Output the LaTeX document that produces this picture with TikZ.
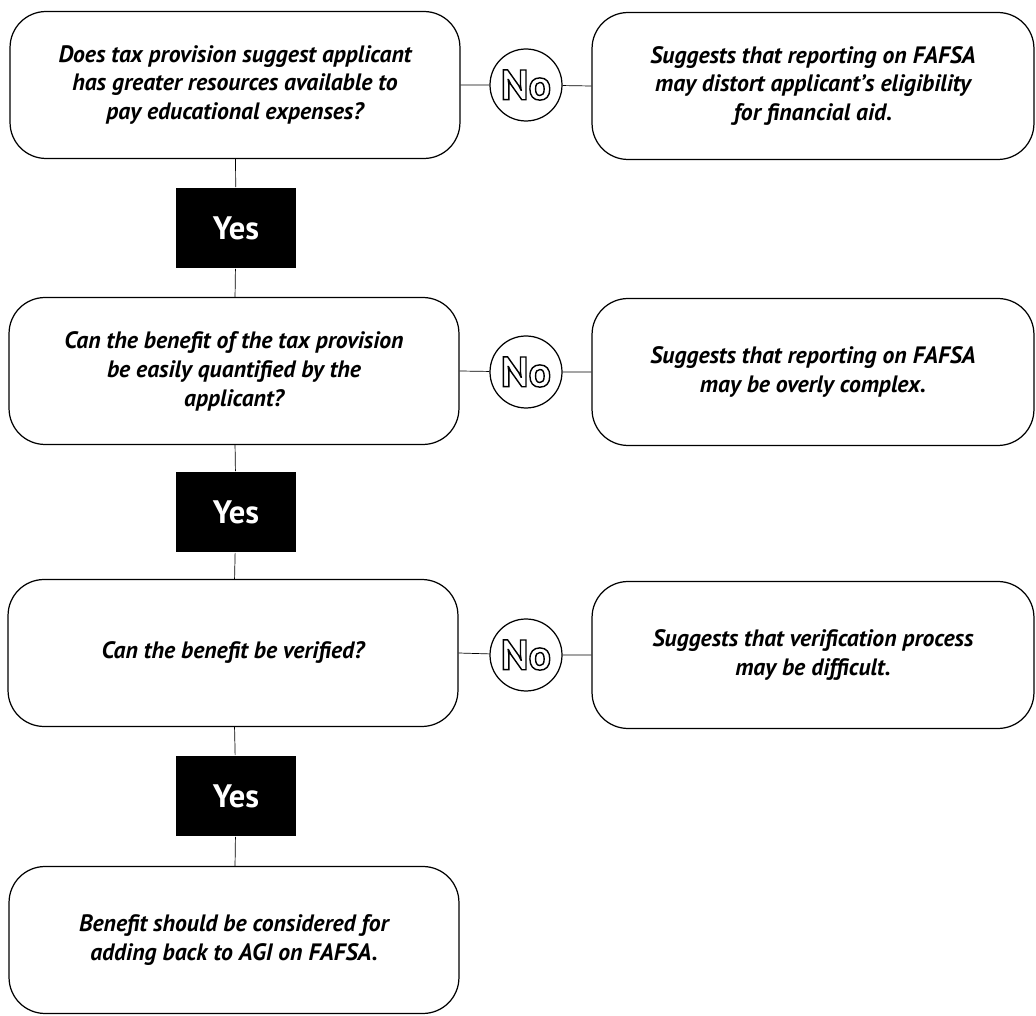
\documentclass[tikz,border=0pt]{standalone}
\usepackage{fontspec}
\setmainfont{PT Sans}
\newcommand{\hollow}[1]{\special{pdf:code q 1 Tr 0.8 w}#1\special{pdf:code Q}}
\begin{document}
\begin{tikzpicture}[x=0.02cm,y=-0.02cm,
    qbox/.style={draw,line width=0.7pt,rounded corners=0.72cm,align=center,
        minimum width=9cm,minimum height=2.94cm,inner sep=0pt,
        font=\fontsize{13.5}{16.5}\selectfont\bfseries\itshape},
    rbox/.style={qbox,minimum width=8.84cm},
    nocirc/.style={draw,circle,line width=0.7pt,minimum size=1.44cm,inner sep=0pt,
        font=\fontsize{24}{24}\selectfont\bfseries},
    yesbox/.style={fill=black,text=white,minimum width=2.4cm,minimum height=1.62cm,
        font=\fontsize{18.5}{18.5}\selectfont\bfseries}]
                \useasboundingbox (0,0) rectangle (1036,1016);
                \node[qbox] (q1) at (235,85) {Does tax provision suggest applicant\\has greater resources available to\\pay educational expenses?};
                \node[nocirc] (no1) at (526,85) {\hollow{No}};
                \node[rbox] (r1) at (813,86) {Suggests that reporting on FAFSA\\may distort applicant's eligibility\\for financial aid.};
                \node[yesbox] (yes1) at (236,228) {Yes};
                \node[qbox] (q2) at (234,371) {Can the benefit of the tax provision\\be easily quantified by the\\applicant?};
                \node[nocirc] (no2) at (526,372) {\hollow{No}};
                \node[rbox] (r2) at (813,372) {Suggests that reporting on FAFSA\\may be overly complex.};
                \node[yesbox] (yes2) at (236,512) {Yes};
                \node[qbox] (q3) at (233,653) {Can the benefit be verified?};
                \node[nocirc] (no3) at (526,655) {\hollow{No}};
                \node[rbox] (r3) at (813,655) {Suggests that verification process\\may be difficult.};
                \node[yesbox] (yes3) at (236,796) {Yes};
                \node[qbox] (q4) at (234,940) {Benefit should be considered for\\adding back to AGI on FAFSA.};
                \draw (q1.east) -- (no1) -- (r1.west);
                \draw (q2.east) -- (no2) -- (r2.west);
                \draw (q3.east) -- (no3) -- (r3.west);
                \draw (q1) -- (yes1) -- (q2) -- (yes2) -- (q3) -- (yes3) -- (q4);
            \end{tikzpicture}
\end{document}
